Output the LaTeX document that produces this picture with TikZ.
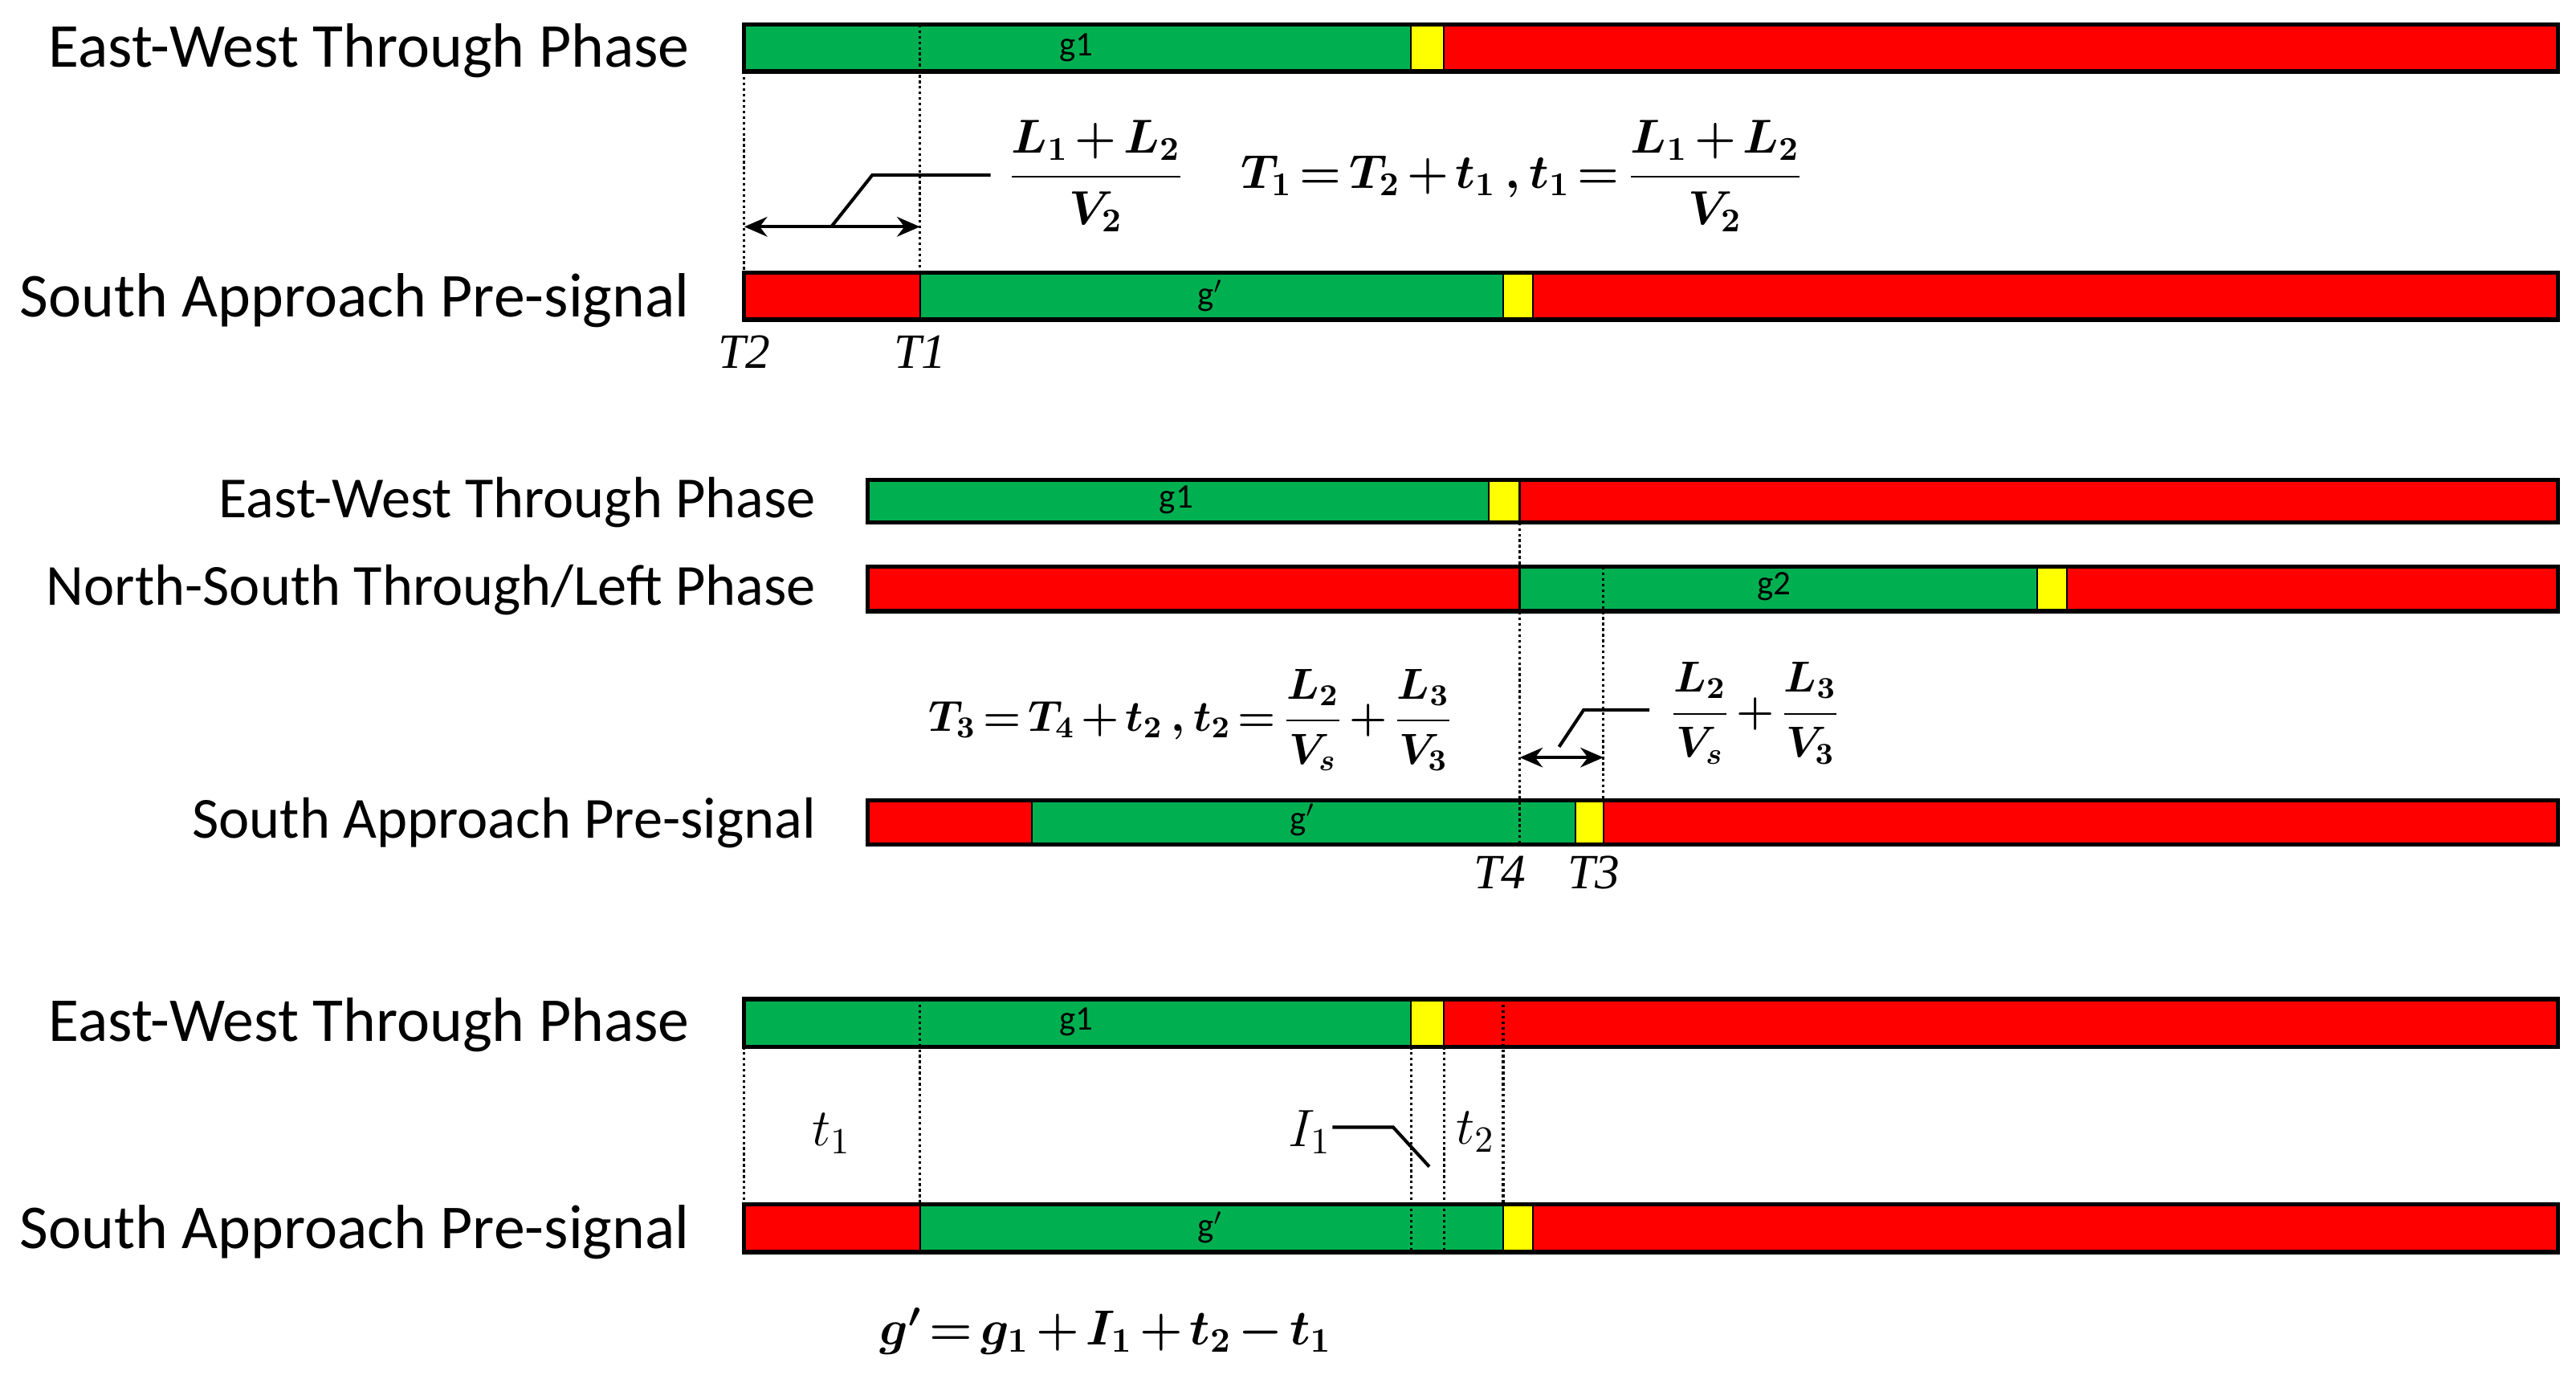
\documentclass[tikz,border=0pt]{standalone}
\usepackage{fix-cm}
\usepackage{amsmath}
\usepackage[no-math]{fontspec}
\setmainfont{Carlito}
\newfontfamily\tnr{Liberation Serif}
\usetikzlibrary{arrows.meta}
\definecolor{sgreen}{HTML}{00B050}
\definecolor{sred}{HTML}{FF0000}
\definecolor{syellow}{HTML}{FFFF00}
\newcommand\tightmath{\thickmuskip=2.5mu plus 1mu\medmuskip=2.2mu plus 1mu}
\tikzset{
  seg/.style={draw=black, line width=0.5pt},
  barframe/.style={draw=black, line width=1.3pt},
  guide/.style={line width=0.8pt, dash pattern=on 0.8pt off 0.9pt},
  dimarrow/.style={line width=1pt, {Stealth[length=7pt,width=6pt]}-{Stealth[length=7pt,width=6pt]}},
  leader/.style={line width=1pt},
  phase/.style={anchor=east, font=\fontsize{19}{22}\selectfont, inner sep=0pt},
  phaseB/.style={anchor=east, font=\fontsize{17.7}{21}\selectfont, inner sep=0pt},
  seglabel/.style={font=\fontsize{10.5}{12}\selectfont, inner sep=0pt},
  tlabel/.style={font=\fontsize{15}{17}\selectfont\tnr\itshape, inner sep=0pt},
  eqA/.style={font=\fontsize{14.5}{17}\selectfont\boldmath\tightmath, inner sep=0pt},
  eqB/.style={font=\fontsize{13.2}{16}\selectfont\boldmath\tightmath, inner sep=0pt},
  eqC/.style={font=\fontsize{15}{18}\selectfont\boldmath\tightmath, inner sep=0pt},
  mlabel/.style={font=\fontsize{16}{19}\selectfont, inner sep=0pt},
}
\newcommand\sigbar[3]{%
  \foreach \xa/\xb/\cc in {#3} {\filldraw[seg,fill=\cc] (\xa,#1) rectangle (\xb,#2);}%
}
\begin{document}
\begin{tikzpicture}[x=0.5pt,y=-0.5pt]
\useasboundingbox (0,0) rectangle (1568,839);

% ---------------- Panel 1 ----------------
\sigbar{15}{43.5}{453/859/sgreen,859/879/syellow,879/1557/sred}
\draw[barframe] (453,15) rectangle (1557,43.5);
\sigbar{166}{194.5}{453/560/sred,560/915/sgreen,915/933/syellow,933/1557/sred}
\draw[barframe] (453,166) rectangle (1557,194.5);

\node[phase] (p1a) at (420,31) {East-West Through Phase};
\node[phase] (p1b) at (420,183) {South Approach Pre-signal};
\node[seglabel] (g1a) at (655,29) {g1};
\node[seglabel] (gpa) at (737,180) {g$'$};

\coordinate (a1) at (453,43.5); \coordinate (a2) at (453,166);
\coordinate (b1) at (560,15);   \coordinate (b2) at (560,166);
\draw[guide] (a1) -- (a2);
\draw[guide] (b1) -- (b2);

\coordinate (arL) at (453,138); \coordinate (arR) at (560,138);
\draw[dimarrow] (arL) -- (arR);
\coordinate (ld1) at (506,138); \coordinate (ld2) at (531,106.5); \coordinate (ld3) at (603,106.5);
\draw[leader] (ld1) -- (ld2) -- (ld3);

\node[eqA, anchor=west] (fr1) at (613,107) {$\displaystyle\frac{L_1+L_2}{V_2}$};
\node[eqA, anchor=west] (eq1) at (755,107) {$\displaystyle T_1=T_2+t_1\,,t_1=\frac{L_1+L_2}{V_2}$};

\node[tlabel] (T2) at (453,214) {T2};
\node[tlabel] (T1) at (560,214) {T1};

% ---------------- Panel 2 ----------------
\sigbar{292}{318}{528/906/sgreen,906/925/syellow,925/1557/sred}
\draw[barframe] (528,292) rectangle (1557,318);
\sigbar{345}{372}{528/925/sred,925/1240/sgreen,1240/1258/syellow,1258/1557/sred}
\draw[barframe] (528,345) rectangle (1557,372);
\sigbar{487}{514}{528/628/sred,628/959/sgreen,959/976/syellow,976/1557/sred}
\draw[barframe] (528,487) rectangle (1557,514);

\node[phaseB] (p2a) at (497,306) {East-West Through Phase};
\node[phaseB] (p2b) at (497,359) {North-South Through/Left Phase};
\node[phaseB] (p2c) at (497,501) {South Approach Pre-signal};
\node[seglabel] (g1b) at (716,304) {g1};
\node[seglabel] (g2b) at (1080,357) {g2};
\node[seglabel] (gpb) at (793,499) {g$'$};

\coordinate (c1) at (925,318); \coordinate (c2) at (925,514);
\coordinate (d1) at (976,345); \coordinate (d2) at (976,487);
\draw[guide] (c1) -- (c2);
\draw[guide] (d1) -- (d2);

\coordinate (br1) at (925,461); \coordinate (br2) at (976,461);
\draw[dimarrow] (br1) -- (br2);
\coordinate (le1) at (949,454.5); \coordinate (le2) at (964,432); \coordinate (le3) at (1004,432);
\draw[leader] (le1) -- (le2) -- (le3);

\node[eqB, anchor=west] (eq2) at (565,438) {$\displaystyle T_3=T_4+t_2\,,t_2=\frac{L_2}{V_s}+\frac{L_3}{V_3}$};
\node[eqB, anchor=west] (fr2) at (1016,434) {$\displaystyle\frac{L_2}{V_s}+\frac{L_3}{V_3}$};

\node[tlabel] (T4) at (913,531) {T4};
\node[tlabel] (T3) at (970,531) {T3};

% ---------------- Panel 3 ----------------
\sigbar{608}{637}{453/859/sgreen,859/879/syellow,879/1557/sred}
\draw[barframe] (453,608) rectangle (1557,637);
\sigbar{733}{762}{453/560/sred,560/915/sgreen,915/933/syellow,933/1557/sred}
\draw[barframe] (453,733) rectangle (1557,762);

\node[phase] (p3a) at (420,624) {East-West Through Phase};
\node[phase] (p3b) at (420,750) {South Approach Pre-signal};
\node[seglabel] (g1c) at (655,622) {g1};
\node[seglabel] (gpc) at (737,747) {g$'$};

\coordinate (e1) at (453,637); \coordinate (e2) at (453,733);
\coordinate (f1) at (560,608); \coordinate (f2) at (560,733);
\coordinate (h1) at (859,637); \coordinate (h2) at (859,762);
\coordinate (i1) at (879,637); \coordinate (i2) at (879,762);
\coordinate (j1) at (915,608); \coordinate (j2) at (915,733);
\draw[guide] (e1) -- (e2);
\draw[guide] (f1) -- (f2);
\draw[guide] (h1) -- (h2);
\draw[guide] (i1) -- (i2);
\draw[guide] (j1) -- (j2);

\node[mlabel] (t1l) at (506,690) {$t_1$};
\node[mlabel] (I1l) at (797,689) {$I_1$};
\node[mlabel] (t2l) at (898,689) {$t_2$};
\coordinate (k1) at (811,686); \coordinate (k2) at (848,686); \coordinate (k3) at (870,710);
\draw[leader] (k1) -- (k2) -- (k3);

\node[eqC] (eq3) at (673,810) {$g'=g_1+I_1+t_2-t_1$};
\end{tikzpicture}
\end{document}
